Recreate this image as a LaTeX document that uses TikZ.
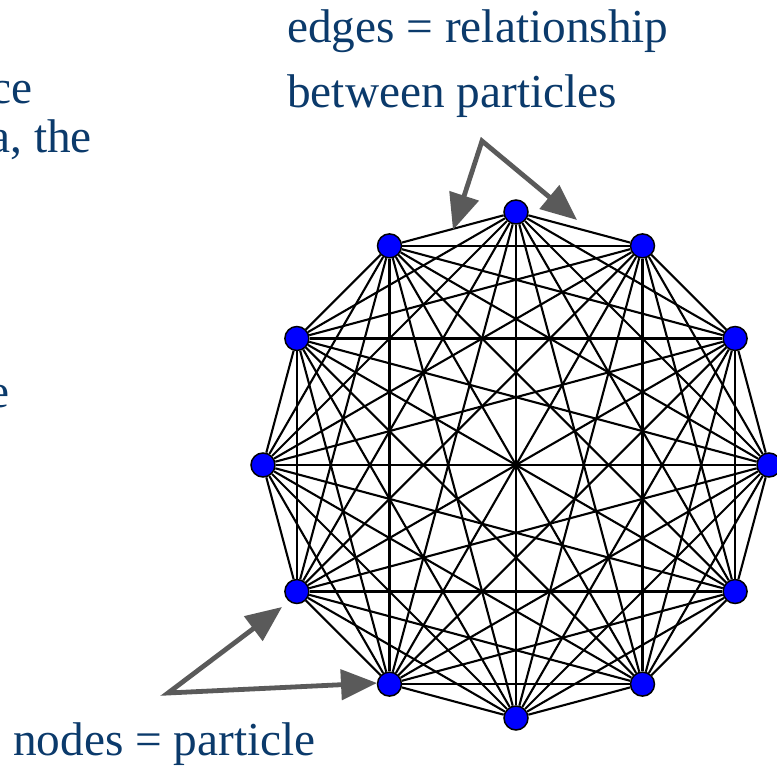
\documentclass[tikz,border=0pt]{standalone}
\usepackage{fontspec}
\setmainfont{Liberation Serif}
\usetikzlibrary{arrows.meta}
\definecolor{txtblue}{HTML}{0B3A6B}
\definecolor{arrgray}{HTML}{5A5A5A}
\definecolor{nodeblue}{RGB}{0,0,255}
\tikzset{
  lbl/.style={inner sep=0pt, text=txtblue, font=\fontsize{47.3}{56}\selectfont},
  particle/.style={circle, fill=nodeblue, draw=black, line width=1.5pt, minimum size=24pt, inner sep=0pt},
  edge/.style={draw=black, line width=2.1pt},
  pointer/.style={draw=arrgray, line width=4.8pt, line join=miter,
    {Triangle[length=36pt,width=30pt]}-{Triangle[length=36pt,width=30pt]}}
}
\begin{document}
\begin{tikzpicture}[x=1pt,y=-1pt]
\useasboundingbox (0,0) rectangle (777,767);
\clip (0,0) rectangle (777,767);
% text
\node[lbl, anchor=base west] (t1) at (287,43) {edges = relationship};
\node[lbl, anchor=base west] (t2) at (287,108) {between particles};
\node[lbl, anchor=base west] (t3) at (13,755) {nodes = particle};
\node[lbl, anchor=base east] (l1) at (33,104) {ce};
\node[lbl, anchor=base east] (l2) at (92,153) {a, the};
\node[lbl, anchor=base east] (l3) at (10,408) {e};
% graph nodes
\foreach \k in {0,...,11}{
  \node[particle] (n\k) at ({516+253*cos(90-30*\k)},{465-253*sin(90-30*\k)}) {};
}
% complete graph edges
\foreach \i in {0,...,10}{
  \pgfmathtruncatemacro\s{\i+1}
  \foreach \j in {\s,...,11}{
    \draw[edge] (n\i) -- (n\j);
  }
}
% pointers
\coordinate (apexT) at (482,141);
\coordinate (tipTL) at (453,230);
\coordinate (tipTR) at (577,220);
\coordinate (apexB) at (168,693);
\coordinate (tipBU) at (282,607);
\coordinate (tipBL) at (377,683);
\draw[pointer] (tipTL) -- (apexT) -- (tipTR);
\draw[pointer] (tipBU) -- (apexB) -- (tipBL);
\end{tikzpicture}
\end{document}
